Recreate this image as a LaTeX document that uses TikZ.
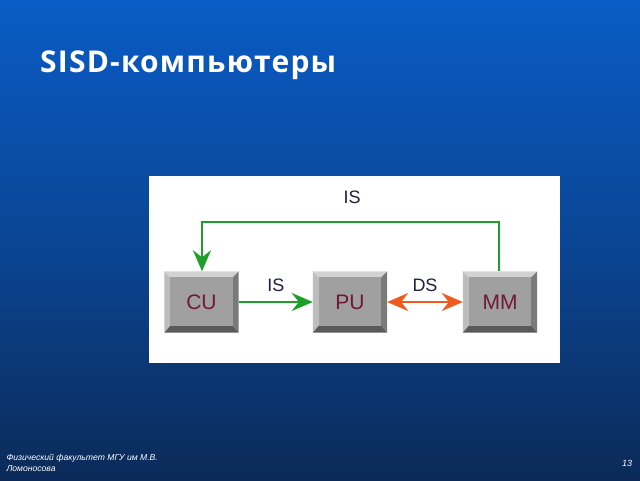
\documentclass[tikz,border=0pt]{standalone}
\usepackage{fontspec}
\setmainfont{Open Sans}
\newfontfamily\titlefont[LetterSpace=4]{Open Sans}
\newfontfamily\footfont{Liberation Sans}
\newfontfamily\boxfont{Liberation Sans}
\usetikzlibrary{arrows.meta}
\definecolor{bgtop}{HTML}{0A5CC6}
\definecolor{bgbot}{HTML}{0B2A58}
\definecolor{ggreen}{HTML}{1E9E2A}
\definecolor{oorange}{HTML}{F05A1E}
\definecolor{lbl}{HTML}{701838}
\definecolor{face}{HTML}{A0A0A0}
\definecolor{btop}{HTML}{D2D2D2}
\definecolor{bleft}{HTML}{BDBDBD}
\definecolor{bright}{HTML}{7A7A7A}
\definecolor{bbot}{HTML}{5A5A5A}
\definecolor{txt}{HTML}{202040}
\tikzset{
  unitbox/.style={minimum width=74pt, minimum height=61pt, inner sep=0pt, font=\boxfont\fontsize{21}{21}\selectfont, text=lbl},
  sig/.style={font=\boxfont\fontsize{18}{18}\selectfont, text=txt},
  garrow/.style={ggreen, line width=2.6pt, -{Stealth[length=21pt,width=18pt,inset=7pt]}},
  oarrow/.style={oorange, line width=2.6pt, {Stealth[length=21pt,width=18pt,inset=7pt]}-{Stealth[length=21pt,width=18pt,inset=7pt]}}
}
\newcommand{\bevelbox}[2]{%
  \fill[bleft] (#1.north west) -- (#1.south west) -- ([shift={(6,-7)}]#1.south west) -- ([shift={(6,6)}]#1.north west) -- cycle;
  \fill[btop] (#1.north west) -- (#1.north east) -- ([shift={(-6,6)}]#1.north east) -- ([shift={(6,6)}]#1.north west) -- cycle;
  \fill[bright] (#1.north east) -- (#1.south east) -- ([shift={(-6,-7)}]#1.south east) -- ([shift={(-6,6)}]#1.north east) -- cycle;
  \fill[bbot] (#1.south west) -- (#1.south east) -- ([shift={(-6,-7)}]#1.south east) -- ([shift={(6,-7)}]#1.south west) -- cycle;
  \fill[face] ([shift={(6,6)}]#1.north west) rectangle ([shift={(-6,-7)}]#1.south east);
  \node[unitbox] at (#1.center) {#2};
}
\begin{document}
\begin{tikzpicture}[x=1pt,y=-1pt]
\useasboundingbox (0,0) rectangle (640,480);
\shade[top color=bgtop, bottom color=bgbot, middle color=bgtop!55!bgbot] (0,0) rectangle (640,480);
\node[anchor=base west, text=white, font=\titlefont\fontsize{30}{30}\selectfont\bfseries, inner sep=0pt] (title) at (40,72) {SISD-компьютеры};
\fill[white] (149,176) rectangle (560,363);
\node[unitbox] (cu) at (201.5,302) {};
\node[unitbox] (pu) at (350,302) {};
\node[unitbox] (mm) at (500,302) {};
\bevelbox{cu}{CU}
\bevelbox{pu}{PU}
\bevelbox{mm}{MM}
\coordinate (tr) at (499,222);
\coordinate (tl) at (202,222);
\draw[garrow] (cu.east) -- (pu.west) node[sig, midway, above=6pt] (is1) {IS};
\draw[oarrow] (pu.east) -- (mm.west) node[sig, midway, above=6pt] (ds) {DS};
\draw[garrow] (mm.north -| tr) -- (tr) -- (tl) -- (cu.north -| tl);
\node[sig] (is2) at (352,197) {IS};
\node[anchor=west, text=white, font=\footfont\itshape\fontsize{8.6}{11}\selectfont, align=left] (foot) at (3,463) {Физический факультет МГУ им М.В.\\Ломоносова};
\node[text=white, font=\footfont\itshape\fontsize{9}{9}\selectfont] (page) at (627,463) {13};
\end{tikzpicture}
\end{document}
